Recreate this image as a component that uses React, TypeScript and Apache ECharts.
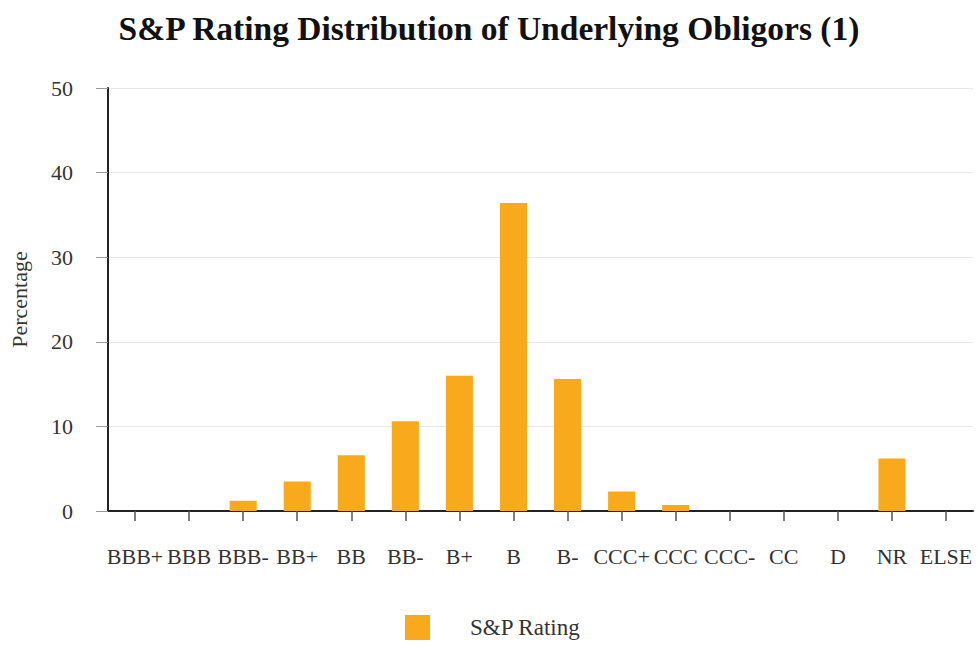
import React, { useEffect, useRef } from "react";
import * as echarts from "echarts";

const categories = ["BBB+", "BBB", "BBB-", "BB+", "BB", "BB-", "B+", "B", "B-", "CCC+", "CCC", "CCC-", "CC", "D", "NR", "ELSE"];
const values = [0, 0, 1.2, 3.5, 6.6, 10.6, 16.0, 36.4, 15.6, 2.3, 0.7, 0, 0, 0, 6.2, 0];
const seriesName = "S&P Rating";
const titleText = "S&P Rating Distribution of Underlying Obligors (1)";
const yName = "Percentage";

const FONT = "'Liberation Serif', 'Times New Roman', serif";

export default function App() {
  const ref = useRef<HTMLDivElement>(null);
  useEffect(() => {
    if (!ref.current) return;
    const chart = echarts.init(ref.current, null, { renderer: "svg" });
    chart.setOption({
      animation: false,
      backgroundColor: "#ffffff",
      title: {
        text: titleText,
        left: "center",
        top: 6,
        textStyle: { fontFamily: FONT, fontWeight: "bold", fontSize: 33.5, color: "#111" },
      },
      legend: {
        data: [seriesName],
        left: 405,
        top: 615,
        padding: 0,
        itemWidth: 25,
        itemHeight: 25,
        icon: "rect",
        textStyle: { fontFamily: FONT, fontSize: 23, color: "#333", padding: [0, 0, 0, 35] },
      },
      grid: { left: 107, right: 5, top: 88, bottom: 135, containLabel: false },
      xAxis: {
        type: "category",
        data: categories,
        axisLine: { lineStyle: { color: "#222", width: 2 } },
        axisTick: { show: true, alignWithLabel: true, length: 10, lineStyle: { color: "#555", width: 1.5 } },
        axisLabel: { interval: 0, margin: 34, fontFamily: FONT, fontSize: 22, color: "#333" },
      },
      yAxis: {
        type: "value",
        min: 0,
        max: 50,
        interval: 10,
        name: yName,
        nameLocation: "middle",
        nameGap: 78,
        nameTextStyle: { fontFamily: FONT, fontSize: 22, color: "#333" },
        axisLine: { show: true, lineStyle: { color: "#222", width: 2 } },
        axisTick: { show: true, length: 12, lineStyle: { color: "#999", width: 1 } },
        axisLabel: { margin: 35, fontFamily: FONT, fontSize: 22, color: "#333" },
        splitLine: { show: true, lineStyle: { color: "#e8e8e8", width: 1 } },
      },
      series: [
        {
          name: seriesName,
          type: "bar",
          data: values,
          barWidth: "50%",
          itemStyle: { color: "#F8AA1C" },
        },
      ],
    });
    return () => chart.dispose();
  }, []);
  return <div ref={ref} style={{ width: 978, height: 646, position: "absolute", left: 0, top: 0 }} />;
}
